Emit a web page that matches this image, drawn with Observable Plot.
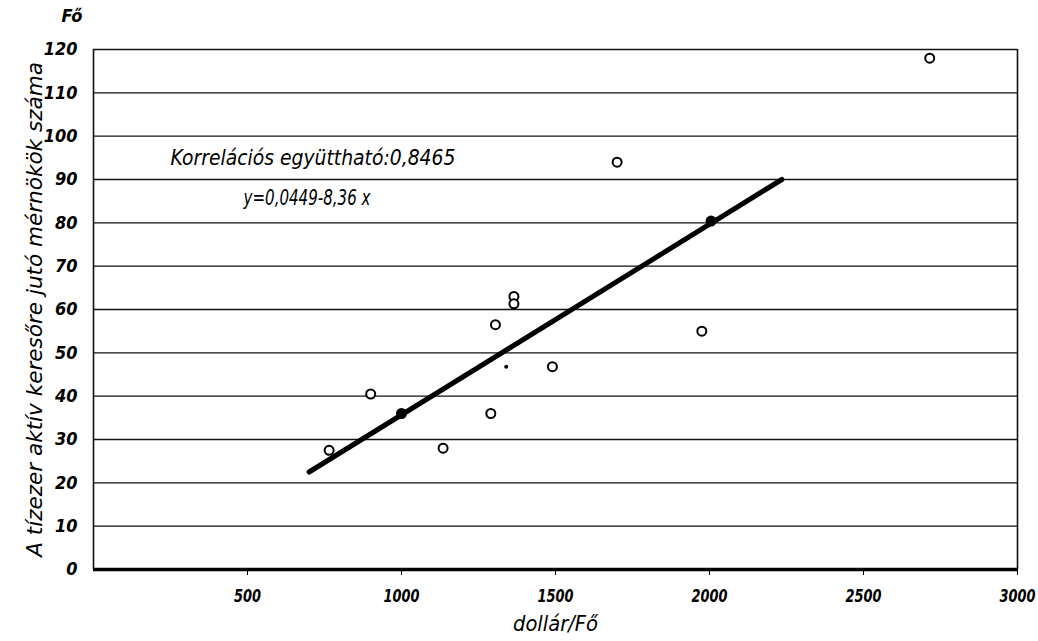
<!DOCTYPE html>
<html>
<head>
<meta charset="utf-8">
<script src="https://cdn.jsdelivr.net/npm/d3@7"></script>
<script src="https://cdn.jsdelivr.net/npm/@observablehq/plot@0.6"></script>
<style>
  html, body { margin: 0; padding: 0; background: #fff; }
  #chart svg { display: block; }
</style>
</head>
<body>
<div id="chart"></div>
<script>
// Data
const incomeX    = [765, 900, 1135, 1290, 1305, 1365, 1365, 1490, 1700, 1975, 2715];
const engineersY = [27.5, 40.5, 28, 36, 56.5, 63, 61.3, 46.8, 94, 55, 118];
const filledX = [1000, 2005];
const filledY = [36, 80.4];
const strayX = [1340];
const strayY = [46.8];
const fitX = [700, 2235];
const fitY = [22.5, 90];
const yTicks = [0, 10, 20, 30, 40, 50, 60, 70, 80, 90, 100, 110, 120];
const xTicks = [500, 1000, 1500, 2000, 2500, 3000];
const yTitle = "A tízezer aktív keresőre jutó mérnökök száma";
const yUnit = "Fő";
const xTitle = "dollár/Fő";
const noteLines = ["Korrelációs együttható:0,8465", "y=0,0449-8,36 x"];

const points = incomeX.map((x, i) => ({x, y: engineersY[i]}));
const filled = filledX.map((x, i) => ({x, y: filledY[i]}));
const stray = strayX.map((x, i) => ({x, y: strayY[i]}));
const fit = fitX.map((x, i) => ({x, y: fitY[i]}));

const font = "'DejaVu Sans Condensed', 'Liberation Sans Narrow', sans-serif";

const chart = Plot.plot({
  width: 1038,
  height: 641,
  marginLeft: 93,
  marginRight: 21,
  marginTop: 49,
  marginBottom: 72,
  style: {fontFamily: font, fontStyle: "italic", fontWeight: "bold", fontSize: "16px", color: "#000", background: "#fff"},
  x: {domain: [0, 3000], axis: null},
  y: {domain: [0, 120], axis: null},
  marks: [
    Plot.ruleY(yTicks.filter(d => d > 0), {stroke: "#111", strokeWidth: 1.4}),
    Plot.ruleY([0], {stroke: "#000", strokeWidth: 3.5}),
    Plot.ruleX([0, 3000], {stroke: "#111", strokeWidth: 1.6}),
    Plot.axisX({ticks: xTicks, tickSize: 6, tickPadding: 14, tickFormat: d => String(d), fontSize: 18, fontStyle: "italic", fontWeight: "bold", label: null, stroke: "#000", className: "xticks"}),
    Plot.axisY({ticks: yTicks, tickSize: 0, tickPadding: 16, tickFormat: d => String(d), fontSize: 18, fontStyle: "italic", fontWeight: "bold", label: null}),
    Plot.text([yUnit], {frameAnchor: "top-left", dx: -32, dy: -40, fontSize: 18, fontStyle: "italic", fontWeight: "bold"}),
    Plot.text([yTitle], {frameAnchor: "left", dx: -58, dy: 0, rotate: -90, textAnchor: "middle", fontSize: 21, fontStyle: "italic", fontWeight: "normal", className: "ytitle"}),
    Plot.text([xTitle], {frameAnchor: "bottom", dy: 61, textAnchor: "middle", fontSize: 21, fontStyle: "italic", fontWeight: "normal", className: "xtitle"}),
    Plot.line(fit, {x: "x", y: "y", stroke: "#000", strokeWidth: 5}),
    Plot.dot(points, {x: "x", y: "y", r: 4.5, stroke: "#000", strokeWidth: 2, fill: "#fff"}),
    Plot.dot(filled, {x: "x", y: "y", r: 5.5, fill: "#000", stroke: "none"}),
    Plot.dot(stray, {x: "x", y: "y", r: 2, fill: "#000", stroke: "none"}),
    Plot.text([noteLines[0]], {x: 250, y: 94.9, textAnchor: "start", fontSize: 22, fontStyle: "italic", fontWeight: "normal", className: "note1"}),
    Plot.text([noteLines[1]], {x: 487, y: 85.7, textAnchor: "start", fontSize: 22, fontStyle: "italic", fontWeight: "normal", className: "note2"})
  ]
});
document.getElementById("chart").appendChild(chart);

// Horizontally condense texts (the reference uses a narrow lettering)
function condense(t, s) {
  let tr = t.getAttribute("transform");
  if (!tr) {
    const x = +t.getAttribute("x") || 0, y = +t.getAttribute("y") || 0;
    t.removeAttribute("x"); t.removeAttribute("y");
    tr = `translate(${x},${y})`;
  }
  t.setAttribute("transform", tr + ` scale(${s},1)`);
}
function fitText(cls, len) {
  chart.querySelectorAll("." + cls + " text").forEach(t => {
    const natural = t.getComputedTextLength();
    if (natural) condense(t, len / natural);
  });
}
fitText("ytitle", 495);
fitText("xtitle", 85);
fitText("note1", 285);
fitText("note2", 127);
chart.querySelectorAll(".xticks text").forEach(t => condense(t, 0.8));
</script>
</body>
</html>
